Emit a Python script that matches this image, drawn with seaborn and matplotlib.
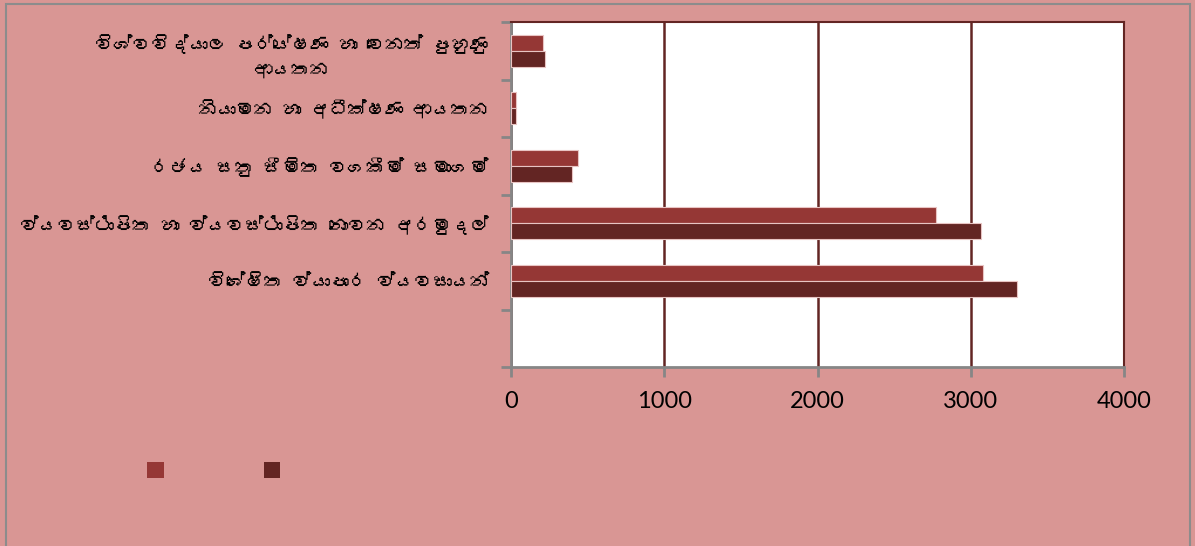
import matplotlib
matplotlib.use("Agg")
import matplotlib.pyplot as plt
import seaborn as sns
import pandas as pd
from matplotlib import font_manager
from matplotlib.ft2font import FT2Font
from matplotlib.patches import Rectangle

# ---------------- data ----------------
categories = [
    "විශ්වවිද්යාල පර්යේෂණ හා වෙනත් පුහුණු\nආයතන",
    "නියාමන හා අධීක්ෂණ ආයතන",
    "රජය සතු සීමිත වගකීම් සමාගම්",
    "ව්යවස්ථාපිත හා ව්යවස්ථාපිත නොවන අරමුදල්",
    "විශේෂිත ව්යාපාර ව්යවසායන්",
]
series_names = ["s1", "s2"]
series1 = [210, 35, 435, 2770, 3080]
series2 = [220, 35, 400, 3070, 3300]
x_ticks = [0, 1000, 2000, 3000, 4000]

BG = "#D99694"
C1 = "#953735"
C2 = "#632523"
GRID = "#632523"
AXIS = "#868686"

# ---------------- fonts ----------------
sinhala_font = None
for f in font_manager.fontManager.ttflist:
    try:
        ft = FT2Font(f.fname)
        if 0x0DC0 in ft.get_charmap():
            sinhala_font = f.name
            break
    except Exception:
        pass

sns.set_theme(style="white")
plt.rcParams["font.family"] = ([sinhala_font] if sinhala_font else []) + ["Lato", "DejaVu Sans"]

df = pd.DataFrame({
    "category": categories * 2,
    "value": series1 + series2,
    "series": [series_names[0]] * len(categories) + [series_names[1]] * len(categories),
})

fig = plt.figure(figsize=(11.95, 5.46), dpi=100, facecolor=BG)
ax = fig.add_axes([511 / 1195, 1 - 367 / 546, (1124 - 511) / 1195, (367 - 22) / 546])
ax.set_facecolor("white")

sns.barplot(data=df, y="category", x="value", hue="series", order=categories,
            hue_order=series_names, palette=[C1, C2], orient="h", width=0.56,
            saturation=1, edgecolor="#e8c4c3", linewidth=0.8, ax=ax,
            legend=False, zorder=3)

ax.set_xlim(0, 4000)
ax.set_ylim(len(categories) + 0.5, -0.5)
ax.set_xticks(x_ticks)
ax.set_xticklabels([str(t) for t in x_ticks], fontsize=17, family=["Lato", "DejaVu Sans"], color="black")
ax.set_xlabel("")
ax.set_ylabel("")

ax.set_yticks(range(len(categories)))
ax.set_yticklabels(categories, fontsize=13.5, color="black", multialignment="center",
                   linespacing=1.55)
ax.tick_params(axis="y", which="major", length=0, pad=16)
ax.set_yticks([i - 0.5 for i in range(len(categories) + 2)], minor=True)
ax.tick_params(axis="y", which="minor", length=7, width=2, color=AXIS, direction="out", left=True)
ax.tick_params(axis="x", which="major", length=7, width=2, color=AXIS, direction="out", bottom=True, pad=10)

ax.grid(axis="x", color=GRID, linewidth=1.8, zorder=1)
ax.grid(axis="y", visible=False)
ax.set_axisbelow(True)

for side in ["left", "bottom"]:
    ax.spines[side].set_color(AXIS)
    ax.spines[side].set_linewidth(2)
for side in ["top", "right"]:
    ax.spines[side].set_color(GRID)
    ax.spines[side].set_linewidth(1.5)

handles = [Rectangle((0, 0), 1, 1, facecolor=C1, edgecolor="none"),
           Rectangle((0, 0), 1, 1, facecolor=C2, edgecolor="none")]
fig.legend(handles, ["", ""], ncol=2, loc="center left",
           bbox_to_anchor=(147 / 1195, 1 - 469.5 / 546), frameon=False,
           fontsize=12, handlelength=1.0, handleheight=1.1, handletextpad=0.0,
           columnspacing=6.0, borderpad=0, borderaxespad=0)

fig.patches.append(Rectangle((6 / 1195, -0.02), (1190 - 6) / 1195, (546 - 4) / 546 + 0.02,
                             transform=fig.transFigure, fill=False,
                             edgecolor="#8c8c8c", linewidth=1.5))

fig.savefig("out.png", dpi=100, facecolor=BG)
